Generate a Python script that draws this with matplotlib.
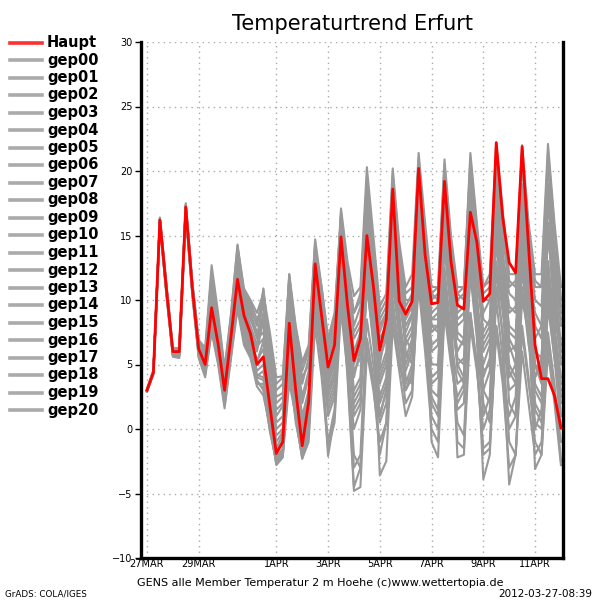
import matplotlib
matplotlib.use("Agg")
import matplotlib.pyplot as plt
from matplotlib.lines import Line2D

# =========================
# DATA (6-hourly, start 27MAR 00z)
# =========================
haupt = [3.0, 4.4, 16.2, 10.9, 6.0, 6.0, 17.2, 11.0, 6.2, 5.0, 9.4, 6.6,
         3.0, 7.2, 11.6, 8.8, 7.4, 5.0, 5.6, 1.8, -1.9, -1.0, 8.2, 3.0,
         -1.3, 2.1, 12.8, 8.8, 4.8, 6.5, 14.9, 9.6, 5.3, 7.0, 15.0, 11.1,
         6.1, 8.5, 18.6, 9.9, 8.9, 9.9, 20.2, 13.5, 9.7, 9.8, 19.2, 13.0,
         9.6, 9.3, 16.8, 14.5, 9.9, 10.5, 22.2, 16.4, 12.9, 12.1, 21.9, 14.1,
         6.5, 3.9, 3.9, 2.6, 0.1]

gep00 = [3.0, 4.4, 16.1, 10.8, 5.9, 6.0, 17.1, 11.1, 6.3, 5.1, 9.8, 6.9,
         3.2, 7.5, 12.0, 9.2, 7.0, 5.3, 6.2, 2.5, -1.5, -0.4, 8.8, 3.6,
         -0.8, 2.8, 13.2, 8.5, 4.2, 6.0, 15.5, 9.0, 4.0, 6.2, 16.0, 10.5,
         5.0, 7.8, 17.2, 10.4, 7.5, 8.8, 18.5, 12.0, 6.0, 6.5, 16.0, 11.0,
         5.5, 5.0, 14.0, 10.0, 6.0, 7.0, 17.0, 12.0, 8.0, 7.5, 15.0, 10.5,
         5.0, 4.5, 13.0, 8.0, 4.0]
gep01 = [3.0, 4.3, 16.0, 10.6, 5.8, 5.7, 16.9, 10.7, 5.9, 4.6, 8.6, 6.0,
         2.4, 6.6, 11.0, 8.0, 6.5, 4.1, 4.5, 1.0, -2.5, -1.8, 6.5, 2.0,
         -2.0, 0.5, 10.5, 7.0, 3.0, 4.5, 13.0, 7.5, 1.5, 2.5, 11.5, 6.5,
         1.0, 3.0, 12.5, 7.0, 3.5, 5.0, 15.0, 9.0, 2.5, 1.5, 10.5, 6.0,
         0.5, -0.5, 9.0, 5.0, -1.5, -1.0, 8.0, 4.5, 0.0, 1.0, 10.0, 7.5,
         4.0, 5.5, 15.5, 9.0, 5.5]
gep02 = [3.1, 4.5, 16.3, 11.1, 6.1, 6.2, 17.4, 11.3, 6.6, 5.6, 11.5, 8.2,
         4.2, 8.3, 13.5, 10.5, 9.5, 8.0, 10.8, 6.5, 2.5, 2.8, 11.2, 6.5,
         3.5, 5.5, 14.2, 10.2, 6.5, 8.0, 16.5, 12.0, 9.0, 10.0, 19.5, 13.5,
         8.5, 9.5, 19.0, 13.0, 9.5, 10.5, 20.5, 14.5, 10.5, 10.0, 20.0, 14.0,
         10.0, 10.5, 21.0, 15.5, 11.0, 11.5, 21.5, 16.0, 11.5, 11.0, 20.5, 14.5,
         10.0, 9.5, 19.0, 13.5, 9.5]
gep03 = [3.0, 4.4, 16.2, 11.0, 6.0, 5.9, 17.0, 10.9, 6.0, 4.8, 9.0, 6.3,
         2.6, 6.9, 11.3, 8.3, 6.8, 4.5, 5.0, 1.2, -2.2, -1.5, 7.2, 2.2,
         -1.8, 1.0, 11.5, 6.5, 1.0, 2.5, 11.0, 4.0, -4.8, -4.5, 6.0, 3.0,
         -1.0, 0.5, 9.0, 5.0, 3.0, 4.5, 14.0, 8.0, 2.0, 1.0, 11.5, 7.0,
         3.5, 4.0, 14.5, 9.0, 4.0, 5.5, 16.0, 10.5, 4.5, 3.5, 12.5, 7.0,
         0.5, 0.0, 9.5, 5.5, 2.0]
gep04 = [2.9, 4.3, 15.9, 10.5, 5.7, 5.6, 16.7, 10.6, 5.6, 4.3, 8.0, 5.4,
         1.8, 5.8, 10.0, 7.0, 5.8, 3.5, 3.5, 0.5, -2.8, -2.2, 5.5, 1.0,
         -2.3, -0.5, 9.0, 5.5, -2.1, 1.0, 10.0, 5.0, 0.0, 1.5, 11.0, 7.0,
         2.5, 4.0, 13.0, 8.0, 5.0, 6.5, 17.0, 11.0, 7.5, 8.0, 18.5, 12.5,
         8.0, 8.5, 19.0, 13.5, 9.0, 10.0, 20.0, 14.0, 6.5, 5.0, 14.0, 9.0,
         3.0, 2.0, 11.0, 6.0, 3.0]
gep05 = [3.0, 4.4, 16.2, 10.8, 6.2, 6.3, 17.3, 11.4, 6.8, 6.0, 12.2, 8.5,
         4.5, 8.8, 14.2, 10.9, 10.0, 9.0, 10.5, 7.5, 4.0, 4.1, 12.0, 8.0,
         5.2, 6.5, 14.7, 11.0, 7.0, 8.5, 17.1, 13.0, 10.3, 11.0, 20.3, 15.0,
         9.5, 10.5, 20.2, 14.5, 11.0, 12.0, 21.4, 16.0, 11.0, 11.0, 20.9, 15.0,
         11.0, 11.0, 21.4, 16.0, 11.0, 12.0, 22.2, 17.0, 12.0, 12.0, 22.0, 16.0,
         12.0, 12.0, 22.1, 16.0, 11.0]
gep06 = [3.0, 4.5, 16.0, 10.7, 5.9, 5.8, 16.8, 10.8, 6.1, 4.9, 9.2, 6.5,
         2.8, 7.0, 11.8, 8.8, 7.6, 6.0, 8.5, 4.0, 0.5, 1.0, 10.0, 5.0,
         1.0, 3.0, 12.0, 7.5, 3.0, 4.0, 13.5, 8.0, 2.5, 3.5, 13.0, 8.0,
         -3.6, -2.5, 8.0, 4.5, 1.0, 2.5, 12.0, 7.0, 3.5, 4.0, 14.0, 9.0,
         5.0, 5.5, 16.0, 10.5, 3.0, 2.0, 12.5, 7.0, -1.0, -2.0, 8.0, 4.0,
         -1.0, -2.0, 7.0, 3.0, -1.0]
gep07 = [3.0, 4.4, 16.3, 11.2, 6.1, 6.1, 17.3, 11.2, 6.4, 5.3, 10.4, 7.4,
         3.6, 7.8, 12.6, 9.6, 8.0, 6.5, 9.0, 5.0, 1.5, 2.0, 10.5, 5.5,
         2.0, 4.0, 13.5, 9.0, 5.5, 7.0, 15.8, 10.5, 6.0, 7.5, 17.0, 12.0,
         7.0, 8.0, 16.0, 11.0, 7.0, 6.0, 16.0, 11.0, -1.0, -2.2, 9.0, 5.0,
         2.0, 3.0, 13.0, 8.5, 5.0, 6.5, 17.5, 12.5, 9.0, 9.5, 19.0, 13.0,
         8.0, 7.0, 17.5, 12.0, 6.5]
gep08 = [2.9, 4.3, 16.1, 10.9, 6.0, 5.9, 17.1, 11.0, 6.2, 5.0, 9.6, 6.8,
         3.1, 7.3, 11.7, 9.0, 7.8, 6.2, 10.9, 6.0, 2.0, 2.5, 12.0, 7.0,
         4.0, 5.0, 14.0, 9.5, 6.0, 7.5, 16.0, 11.5, 7.0, 8.0, 18.0, 13.0,
         8.0, 9.0, 19.5, 13.5, 10.0, 10.0, 19.5, 13.0, 8.0, 7.5, 17.0, 11.5,
         4.5, 3.5, 12.0, 7.0, -3.9, -2.0, 8.0, 4.0, 1.0, 2.5, 13.5, 9.5,
         7.0, 8.0, 19.0, 13.5, 8.0]
gep09 = [3.0, 4.4, 16.2, 10.9, 5.9, 5.8, 16.9, 10.8, 5.9, 4.5, 8.2, 5.6,
         1.9, 6.0, 10.2, 7.2, 6.0, 3.8, 3.0, 0.0, -2.6, -2.0, 6.0, 1.5,
         -2.1, 0.0, 9.5, 5.0, -1.0, 1.5, 10.5, 5.5, -2.0, -3.0, 7.0, 4.0,
         0.5, 2.0, 11.0, 7.5, 4.5, 6.0, 15.5, 10.0, 5.0, 5.0, 15.0, 9.5,
         -2.2, -2.0, 8.0, 4.5, 0.0, 1.5, 11.0, 7.5, 3.0, 3.5, 14.0, 9.0,
         2.0, 1.0, 11.5, 6.5, 1.0]
gep10 = [3.1, 4.6, 16.4, 11.3, 6.3, 6.2, 17.5, 11.5, 6.9, 6.3, 12.7, 9.0,
         4.7, 9.0, 14.3, 10.6, 9.8, 8.5, 9.5, 6.0, 3.0, 3.5, 11.5, 7.5,
         4.5, 6.0, 14.5, 10.5, 6.8, 8.0, 16.8, 12.5, 9.0, 10.5, 19.0, 14.0,
         8.0, 9.0, 18.0, 12.0, 6.0, 5.0, 14.0, 9.0, 4.0, 4.5, 14.5, 9.5,
         6.0, 7.0, 17.5, 12.0, 7.0, 8.0, 19.0, 13.0, 7.0, 6.0, 16.5, 11.0,
         6.0, 5.5, 15.0, 10.0, 5.0]
gep11 = [3.0, 4.4, 16.0, 10.8, 6.0, 6.0, 17.0, 11.0, 6.1, 4.7, 8.8, 6.2,
         2.5, 6.5, 10.8, 7.8, 6.4, 4.2, 4.0, 0.8, -2.4, -1.8, 5.0, 0.5,
         -2.0, 0.5, 9.0, 5.5, 1.5, 3.0, 12.0, 7.0, 2.0, 3.0, 12.5, 8.0,
         4.0, 5.5, 15.0, 10.0, 6.5, 7.5, 17.5, 12.0, 8.5, 9.0, 19.0, 13.5,
         7.5, 7.0, 16.0, 10.5, 2.0, 0.5, 10.0, 5.5, -4.3, -2.0, 7.5, 3.5,
         0.0, 1.5, 12.0, 8.0, 7.0]
gep12 = [3.0, 4.4, 16.2, 11.0, 6.1, 6.1, 17.2, 11.1, 6.5, 5.5, 11.0, 7.9,
         4.0, 8.0, 13.0, 10.0, 8.8, 7.0, 7.5, 3.5, 0.0, 0.5, 9.5, 4.5,
         0.5, 2.5, 12.5, 8.0, 3.5, 5.0, 14.5, 9.5, 4.5, 5.5, 15.5, 10.0,
         5.5, 7.0, 17.0, 11.5, 8.0, 9.0, 19.0, 13.0, 9.0, 9.5, 19.5, 14.0,
         10.5, 10.0, 20.0, 14.5, 8.5, 8.0, 17.0, 11.5, 5.0, 4.0, 13.0, 8.5,
         -3.1, -2.0, 6.0, 2.0, -2.8]
gep13 = [2.9, 4.2, 15.8, 10.4, 5.6, 5.5, 16.6, 10.4, 5.5, 4.0, 7.5, 5.0,
         1.6, 5.5, 9.3, 6.5, 5.5, 3.3, 2.6, 0.2, -2.7, -2.1, 3.6, 1.0,
         -1.0, 1.5, 10.0, 6.0, 2.0, 3.5, 12.5, 6.5, -3.0, -2.0, 8.5, 5.0,
         1.0, 3.0, 12.0, 7.5, 3.0, 4.0, 13.0, 8.0, 1.0, 0.0, 10.0, 6.5,
         1.5, 2.0, 12.5, 8.0, 3.0, 4.5, 15.0, 10.0, 4.0, 5.0, 15.5, 10.0,
         1.5, 0.5, 10.0, 5.5, 0.0]
gep14 = [3.0, 4.5, 16.1, 11.0, 6.0, 6.0, 17.1, 11.2, 6.3, 5.4, 10.8, 7.6,
         3.8, 7.9, 12.8, 9.8, 8.5, 7.2, 9.8, 5.5, 1.0, 1.8, 10.8, 6.0,
         2.5, 4.5, 13.8, 9.8, 6.0, 7.5, 16.2, 11.0, 7.5, 8.5, 17.5, 12.0,
         7.5, 9.0, 19.0, 13.0, 9.0, 10.0, 20.8, 15.0, 10.0, 10.5, 20.0, 14.5,
         9.0, 9.5, 18.5, 13.0, 10.0, 10.0, 19.0, 13.5, 10.5, 10.0, 21.0, 15.0,
         11.0, 11.0, 21.5, 15.5, 10.0]
gep15 = [3.0, 4.3, 16.2, 10.7, 5.8, 5.8, 16.9, 10.9, 6.0, 4.4, 8.4, 5.8,
         2.2, 6.2, 10.5, 7.5, 6.2, 4.0, 3.8, 0.3, -2.3, -1.6, 6.8, 2.5,
         -1.5, 1.0, 11.0, 7.0, 3.5, 5.5, 14.0, 8.5, 3.0, 4.0, 13.5, 9.0,
         3.5, 5.0, 14.5, 9.0, 4.0, 3.5, 11.0, 6.0, 0.0, -1.0, 9.5, 5.5,
         2.5, 3.5, 14.0, 9.5, 6.5, 7.5, 18.0, 12.5, 7.5, 7.0, 17.0, 11.5,
         3.5, 2.5, 12.0, 7.0, 2.5]
gep16 = [3.0, 4.4, 16.3, 11.1, 6.2, 6.2, 17.4, 11.4, 6.7, 5.8, 11.8, 8.5,
         4.4, 8.5, 13.8, 10.3, 9.2, 8.2, 10.0, 7.0, 3.5, 4.0, 11.8, 7.8,
         5.0, 6.2, 14.0, 11.0, 7.0, 9.0, 16.5, 12.5, 8.0, 9.5, 18.5, 13.5,
         9.0, 10.0, 19.8, 14.0, 10.5, 11.0, 21.0, 15.0, 10.5, 11.0, 20.5, 14.5,
         10.5, 11.0, 20.5, 15.0, 10.5, 11.0, 20.5, 15.0, 11.0, 11.5, 21.5, 15.5,
         11.5, 11.0, 20.5, 14.0, 9.0]
gep17 = [3.0, 4.4, 16.0, 10.6, 5.7, 5.7, 16.8, 10.6, 5.7, 4.2, 7.8, 5.2,
         2.0, 5.7, 9.8, 6.8, 5.7, 3.6, 3.2, -0.2, -2.5, -2.0, 4.5, 0.8,
         -2.3, -1.0, 8.0, 4.0, -1.5, 0.5, 9.2, 4.5, -4.5, -3.0, 7.0, 3.5,
         -2.0, 0.5, 10.0, 6.0, 2.0, 3.0, 13.0, 7.5, 3.0, 2.5, 12.5, 7.5,
         -1.0, -1.5, 9.0, 5.0, -2.0, -1.5, 7.5, 3.5, -3.0, -2.0, 6.0, 2.0,
         -2.0, -1.0, 7.5, 3.5, -2.5]
gep18 = [3.0, 4.4, 16.2, 10.9, 6.0, 6.1, 17.1, 11.2, 6.5, 5.7, 11.2, 8.0,
         4.1, 8.1, 13.2, 10.2, 9.0, 7.5, 8.0, 3.0, -0.5, 0.0, 9.0, 4.0,
         0.0, 2.0, 12.0, 8.0, 4.0, 5.5, 15.0, 10.0, 5.5, 6.5, 16.5, 11.5,
         6.5, 7.5, 17.5, 12.5, 8.5, 9.5, 19.8, 14.0, 8.0, 8.0, 18.0, 12.0,
         7.0, 6.5, 15.0, 9.5, 4.5, 5.0, 14.5, 9.5, 2.0, 1.0, 11.0, 6.5,
         4.0, 5.0, 16.0, 11.0, 6.0]
gep19 = [3.0, 4.4, 16.1, 10.8, 5.9, 5.9, 17.0, 10.9, 6.2, 5.2, 10.0, 7.1,
         3.4, 7.6, 12.2, 9.3, 7.9, 6.4, 7.0, 2.8, -1.0, -0.2, 8.5, 3.8,
         -0.5, 2.2, 12.2, 7.8, 2.5, 4.0, 13.8, 8.2, 1.0, 2.0, 11.5, 7.0,
         2.0, 3.5, 13.5, 8.5, 5.5, 7.0, 16.5, 11.0, 6.5, 7.0, 17.0, 12.0,
         8.5, 9.0, 18.0, 12.5, 7.5, 8.5, 18.5, 13.0, 9.5, 9.0, 18.0, 12.5,
         9.0, 8.0, 18.0, 12.5, 8.5]
gep20 = [3.0, 4.4, 16.2, 10.9, 6.0, 6.0, 17.2, 11.0, 6.2, 5.0, 9.4, 6.6,
         3.0, 7.2, 11.6, 8.8, 7.2, 5.2, 6.8, 2.0, -1.8, -0.8, 7.8, 3.2,
         -1.2, 1.8, 12.5, 8.5, 4.5, 6.2, 14.5, 9.2, 5.0, 6.5, 14.0, 9.5,
         4.5, 6.0, 16.0, 10.5, 7.0, 8.0, 18.0, 12.5, 8.5, 8.5, 17.5, 11.0,
         5.0, 4.0, 12.5, 7.5, 1.0, 2.5, 13.0, 9.0, 6.0, 6.5, 17.5, 12.0,
         5.0, 3.5, 13.0, 7.5, 3.5]

members = [gep00, gep01, gep02, gep03, gep04, gep05, gep06, gep07, gep08, gep09,
           gep10, gep11, gep12, gep13, gep14, gep15, gep16, gep17, gep18, gep19,
           gep20]
member_names = ["gep%02d" % k for k in range(len(members))]

tick_days = [0, 2, 5, 7, 9, 11, 13, 15]
tick_labels = ["27MAR", "29MAR", "1APR", "3APR", "5APR", "7APR", "9APR", "11APR"]
y_ticks = [-10, -5, 0, 5, 10, 15, 20, 25, 30]

days = [i * 0.25 for i in range(len(haupt))]

# =========================
# FIGURE
# =========================
fig = plt.figure(figsize=(6, 6), dpi=100)
ax = fig.add_axes([141 / 600, 42 / 600, 422 / 600, 516 / 600])

grey = "#999999"
for m in members:
    ax.plot(days, m, color=grey, lw=1.5, zorder=2)
ax.plot(days, haupt, color="#ff0000", lw=2.0, zorder=3)

ax.set_xlim(-0.23, 16.08)
ax.set_ylim(-10, 30)
ax.set_xticks(tick_days)
ax.set_xticklabels(tick_labels, fontsize=7)
ax.set_yticks(y_ticks)
ax.set_yticklabels([str(v).replace("-", "\u2212") for v in y_ticks], fontsize=7)
ax.tick_params(axis="y", direction="out", length=4, width=1, pad=2)
ax.tick_params(axis="x", direction="out", length=0, pad=1)

ax.grid(True, color="#aaaaaa", linestyle=(0, (1, 3)), linewidth=1.0, zorder=1)

for side in ["left", "bottom", "right"]:
    ax.spines[side].set_linewidth(2.4)
    ax.spines[side].set_color("black")
ax.spines["top"].set_visible(False)

# title
fig.text(352 / 600, 1 - 24 / 600, "Temperaturtrend Erfurt", ha="center",
         va="center", fontsize=15)

# =========================
# LEGEND (left side)
# =========================
names = ["Haupt"] + member_names
colors = ["#ff3030"] + ["#aaaaaa"] * len(member_names)
for k, (name, c) in enumerate(zip(names, colors)):
    y = 1 - (42.5 + 17.5 * k) / 600
    fig.add_artist(Line2D([10 / 600, 42 / 600], [y, y], color=c, lw=2.6,
                          transform=fig.transFigure))
    fig.text(47 / 600, y, name, ha="left", va="center", fontsize=10.5,
             fontweight="bold")

# bottom texts
fig.text(320 / 600, 1 - 583 / 600,
         "GENS alle Member Temperatur 2 m Hoehe (c)www.wettertopia.de",
         ha="center", va="center", fontsize=8)
fig.text(5 / 600, 1 - 594 / 600, "GrADS: COLA/IGES", ha="left", va="center",
         fontsize=6.3)
fig.text(592 / 600, 1 - 594 / 600, "2012-03-27-08:39", ha="right",
         va="center", fontsize=7.5)

fig.savefig("out.png", dpi=100)
